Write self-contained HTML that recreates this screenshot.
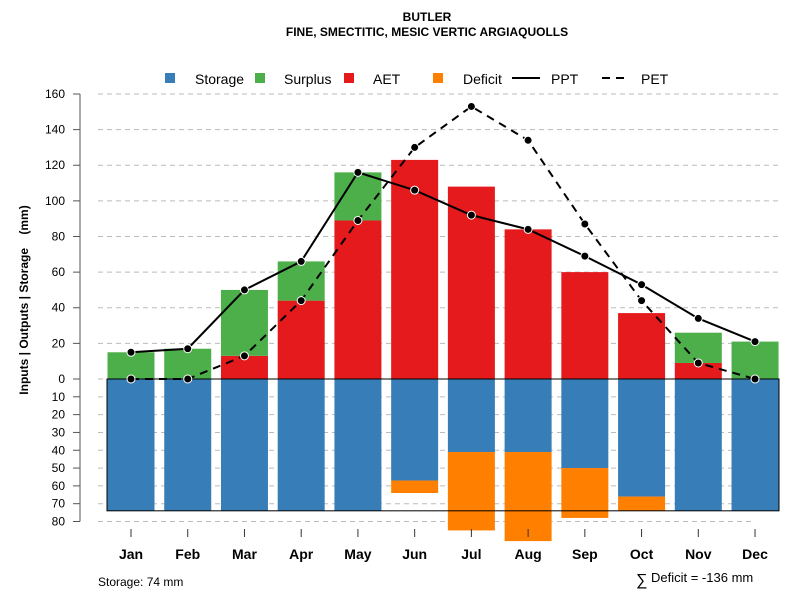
<!DOCTYPE html>
<html><head><meta charset="utf-8"><style>
body{margin:0;background:#fff}
svg text{font-family:"Liberation Sans",sans-serif}
</style></head><body>
<svg id="c" width="800" height="600" xmlns="http://www.w3.org/2000/svg">
<text x="427" y="21" text-anchor="middle" font-size="12" font-weight="bold">BUTLER</text>
<text x="427" y="36" text-anchor="middle" font-size="12" font-weight="bold">FINE, SMECTITIC, MESIC VERTIC ARGIAQUOLLS</text>
<g>
<rect x="165" y="73" width="10" height="10" fill="#377eb8"/>
<text x="195" y="84" font-size="14">Storage</text>
<rect x="255" y="73" width="10" height="10" fill="#4daf4a"/>
<text x="284" y="84" font-size="14">Surplus</text>
<rect x="344" y="73" width="10" height="10" fill="#e41a1c"/>
<text x="373" y="84" font-size="14">AET</text>
<rect x="433" y="73" width="10" height="10" fill="#ff7f00"/>
<text x="463" y="84" font-size="14">Deficit</text>
<line x1="512" y1="78" x2="540" y2="78" stroke="#000" stroke-width="2"/>
<text x="551" y="84" font-size="14">PPT</text>
<line x1="602" y1="78" x2="625" y2="78" stroke="#000" stroke-width="2" stroke-dasharray="8,6"/>
<text x="641" y="84" font-size="14">PET</text>
</g>
<g id="grid"></g><g id="bars"></g><g id="lines"></g><g id="axes"></g>
<text x="98" y="586" font-size="12">Storage: 74 mm</text>
<text x="636" y="585" font-size="16">∑</text>
<text x="651" y="582" font-size="13">Deficit = -136 mm</text>
<text transform="translate(28,300) rotate(-90)" text-anchor="middle" font-size="12" font-weight="bold">Inputs | Outputs | Storage&#160;&#160;&#160;&#160;(mm)</text>
</svg>
<script>
const months=["Jan","Feb","Mar","Apr","May","Jun","Jul","Aug","Sep","Oct","Nov","Dec"];
const aet=[0,0,13,44,89,123,108,84,60,37,9,0];
const surplus=[15,17,37,22,27,0,0,0,0,0,17,21];
const storage=[74,74,74,74,74,57,41,41,50,66,74,74];
const deficit=[0,0,0,0,0,7,44,50,28,8,0,0];
const ppt=[15,17,50,66,116,106,92,84,69,53,34,21];
const pet=[0,0,13,44,89,130,153,134,87,44,9,0];
const posTicks=[0,20,40,60,80,100,120,140,160];
const negTicks=[10,20,30,40,50,60,70,80];
const capacity=74;
const NS="http://www.w3.org/2000/svg";
const y0=379, k=1.7813;
const yP=v=>y0-v*k, yN=v=>y0+v*k;
const xC=i=>131+i*56.73, bw=47;
function mk(p,t,a){const e=document.createElementNS(NS,t);for(const q in a)e.setAttribute(q,a[q]);document.getElementById(p).appendChild(e);return e;}
posTicks.forEach(t=>{if(t===0)return;const l=mk('grid','line',{x1:98,x2:779,y1:yP(t),y2:yP(t),stroke:'#bbb','stroke-dasharray':'5,4'});

});
negTicks.forEach(t=>{const l=mk('grid','line',{x1:98,x2:755,y1:yN(t),y2:yN(t),stroke:'#bbb','stroke-dasharray':'5,4'});

});
const z=mk('grid','line',{x1:98,x2:107,y1:y0,y2:y0,stroke:'#bbb','stroke-dasharray':'5,4'});


months.forEach((m,i)=>{const x=xC(i)-bw/2;
const segs=[[yP(aet[i]),aet[i]*k,'#e41a1c','bar-aet-'+m],[yP(aet[i]+surplus[i]),surplus[i]*k,'#4daf4a','bar-surplus-'+m],[y0,storage[i]*k,'#377eb8','bar-storage-'+m],[yN(storage[i]),deficit[i]*k,'#ff7f00','bar-deficit-'+m]];
segs.forEach(s=>{if(s[1]<=0)return;const r=mk('bars','rect',{x:x,y:s[0],width:bw,height:s[1],fill:s[2]});

});});
const box=mk('bars','rect',{x:107,y:y0,width:672,height:capacity*k,fill:'none',stroke:'#000','stroke-width':1});


[[ppt,'','ppt-line'],[pet,'8,6','pet-line']].forEach(s=>{
const p=mk('lines','polyline',{points:s[0].map((v,i)=>xC(i)+','+yP(v)).join(' '),fill:'none',stroke:'#000','stroke-width':2,'stroke-dasharray':s[1]});


s[0].forEach((v,i)=>{const c=mk('lines','circle',{cx:xC(i),cy:yP(v),r:4,fill:'#000',stroke:'#fff','stroke-width':1});

});});
const ax=mk('axes','line',{x1:80,x2:80,y1:yP(160),y2:yN(80),stroke:'#555','stroke-width':1});


function yt(y,lab){const l=mk('axes','line',{x1:73,x2:80,y1:y,y2:y,stroke:'#555'});


const t=mk('axes','text',{x:65,y:y+4,'text-anchor':'end','font-size':12});t.textContent=lab;

}
posTicks.forEach(t=>yt(yP(t),t));negTicks.forEach(t=>yt(yN(t),t));
months.forEach((m,i)=>{const l=mk('axes','line',{x1:xC(i),x2:xC(i),y1:529,y2:537,stroke:'#333'});


const t=mk('axes','text',{x:xC(i),y:559,'text-anchor':'middle','font-size':14,'font-weight':'bold'});t.textContent=m;

});
</script>
</body></html>
